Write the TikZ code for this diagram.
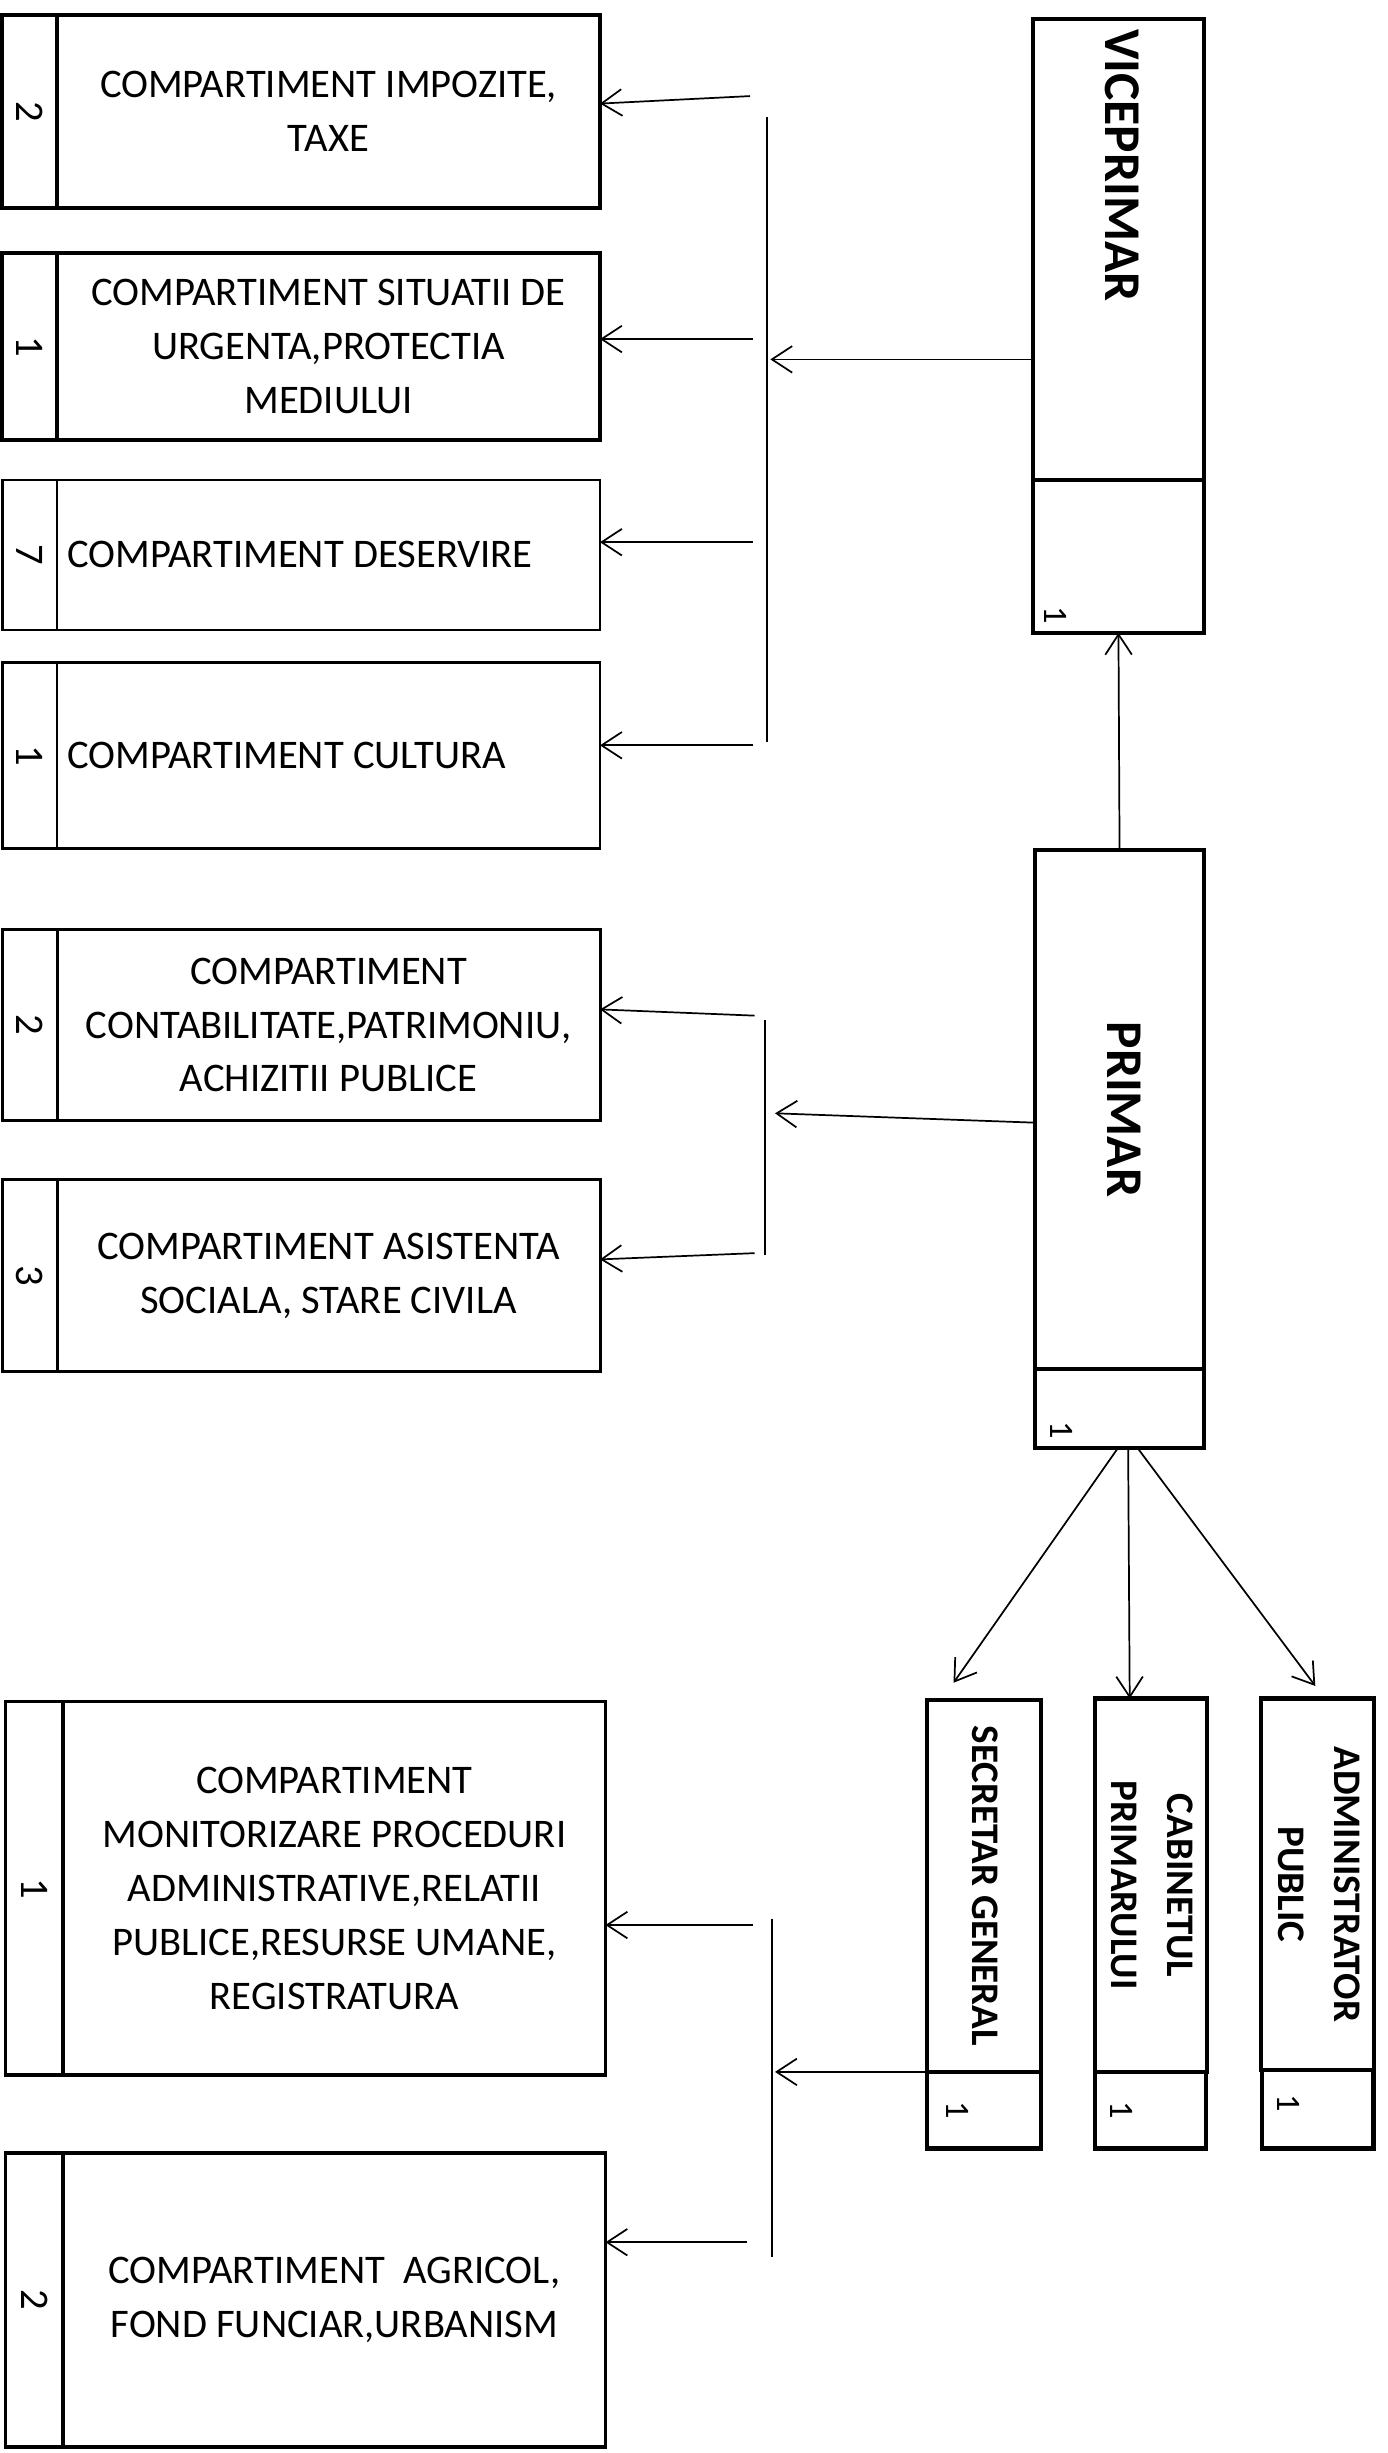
\documentclass[tikz,border=0pt]{standalone}
\usepackage{fontspec}
\setmainfont{Carlito}
\usepackage{graphicx}
\usepackage{tikz}
\usetikzlibrary{positioning,arrows.meta}
\newcommand{\vtext}[1]{\rotatebox{-90}{\begin{tabular}{@{}c@{}}#1\end{tabular}}}
\newcommand{\ltext}[1]{\makebox[334.5pt][l]{#1}}
\newcommand{\deptfont}{\fontsize{26}{34.5}\selectfont}
\newcommand{\headfont}{\fontsize{33}{40}\selectfont\bfseries}
\newcommand{\subfont}{\fontsize{25}{36}\selectfont\bfseries}

\begin{document}
\begin{tikzpicture}[x=1pt,y=1pt]
\tikzstyle{numbox}=[draw=black,rectangle,line width=2.4pt,inner sep=0pt,outer sep=0pt,minimum width=35pt,font=\deptfont]
\tikzstyle{deptbox}=[draw=black,rectangle,line width=2.4pt,inner sep=0pt,outer sep=0pt,minimum width=347.5pt,align=center,font=\deptfont]
\tikzstyle{headbox}=[draw=black,rectangle,line width=2.6pt,inner sep=0pt,outer sep=0pt]
\tikzstyle{numtext}=[inner sep=0pt,font=\fontsize{22}{26}\selectfont]
\tikzstyle{arrow}=[line width=1.1pt,-{Straight Barb[length=13pt,width=17pt,line width=1.1pt]}]
\tikzstyle{bus}=[line width=1.1pt]
\useasboundingbox (0,0) rectangle (888.3,-1569.9);

\node [numbox,minimum height=123.4pt] at (19,-71.3) (n1) {\rotatebox{-90}{2}};
\node [deptbox,minimum height=123.4pt,right=0pt of n1] (d1) {COMPARTIMENT IMPOZITE,\\TAXE};
\node [numbox,minimum height=119.6pt] at (19,-221.8) (n2) {\rotatebox{-90}{1}};
\node [deptbox,minimum height=119.6pt,right=0pt of n2] (d2) {COMPARTIMENT SITUATII DE\\URGENTA,PROTECTIA\\MEDIULUI};
\node [numbox,minimum height=96pt,line width=1.5pt] at (19,-355) (n3) {\rotatebox{-90}{7}};
\node [deptbox,minimum height=96pt,line width=1.5pt,right=0pt of n3] (d3) {\ltext{COMPARTIMENT DESERVIRE}};
\node [numbox,minimum height=119pt,line width=1.5pt] at (19,-483.5) (n4) {\rotatebox{-90}{1}};
\node [deptbox,minimum height=119pt,line width=1.5pt,right=0pt of n4] (d4) {\ltext{COMPARTIMENT CULTURA}};
\node [numbox,minimum height=122pt,line width=1.9pt] at (19,-656) (n5) {\rotatebox{-90}{2}};
\node [deptbox,minimum height=122pt,line width=1.9pt,right=0pt of n5] (d5) {COMPARTIMENT\\CONTABILITATE,PATRIMONIU,\\ACHIZITII PUBLICE};
\node [numbox,minimum height=123pt,line width=1.9pt] at (19,-816.5) (n6) {\rotatebox{-90}{3}};
\node [deptbox,minimum height=123pt,line width=1.9pt,right=0pt of n6] (d6) {COMPARTIMENT ASISTENTA\\SOCIALA, STARE CIVILA};
\node [numbox,minimum height=239pt,minimum width=37pt] at (22,-1208.5) (n7) {\rotatebox{-90}{1}};
\node [deptbox,minimum height=239pt,minimum width=347pt,right=0pt of n7] (d7) {COMPARTIMENT\\MONITORIZARE PROCEDURI\\ADMINISTRATIVE,RELATII\\PUBLICE,RESURSE UMANE,\\REGISTRATURA};
\node [numbox,minimum height=188pt,minimum width=37pt] at (22,-1472) (n8) {\rotatebox{-90}{2}};
\node [deptbox,minimum height=188pt,minimum width=347pt,right=0pt of n8] (d8) {COMPARTIMENT\ \ AGRICOL,\\FOND FUNCIAR,URBANISM};

\node [headbox,minimum width=109.6pt,minimum height=295pt] at (715.8,-159.5) (vp) {};
\node [inner sep=0pt,below=6.5pt of vp.north,font=\headfont] (vpt) {\vtext{VICEPRIMAR}};
\node [headbox,minimum width=109.6pt,minimum height=98pt,below=0pt of vp] (vp1) {};
\node [numtext] at ([xshift=14.5pt,yshift=11.4pt]vp1.south west) {\rotatebox{-90}{1}};
\node [headbox,minimum width=108pt,minimum height=332pt,font=\headfont] at (716.5,-710) (pr) {\vtext{PRIMAR}};
\node [headbox,minimum width=108pt,minimum height=50.7pt,below=0pt of pr] (pr1) {};
\node [numtext] at ([xshift=17pt,yshift=11.7pt]pr1.south west) {\rotatebox{-90}{1}};

\node [headbox,minimum width=73pt,minimum height=238pt,font=\subfont] at (629.5,-1207) (sg) {\vtext{SECRETAR GENERAL}};
\node [headbox,minimum width=73pt,minimum height=49pt,below=0pt of sg] (sg1) {};
\node [numtext] at ([xshift=20pt]sg1.west) {\rotatebox{-90}{1}};
\node [headbox,minimum width=71pt,minimum height=239pt,font=\subfont] at (736.5,-1206.5) (cab) {\vtext{CABINETUL\\PRIMARULUI}};
\node [headbox,minimum width=71pt,minimum height=49pt,below=0pt of cab] (cab1) {};
\node [numtext] at ([xshift=17pt]cab1.west) {\rotatebox{-90}{1}};
\node [headbox,minimum width=71.5pt,minimum height=238pt,font=\subfont] at (843.25,-1206) (adm) {\vtext{ADMINISTRATOR\\PUBLIC}};
\node [headbox,minimum width=71.5pt,minimum height=50pt,below=0pt of adm] (adm1) {};
\node [numtext] at ([xshift=17pt,yshift=4pt]adm1.west) {\rotatebox{-90}{1}};

\coordinate (t1) at (491,-75);
\coordinate (t2) at (491,-475);
\coordinate (b1) at (493,-230);
\coordinate (s1) at (480,-61.5);
\coordinate (s2) at (482,-217);
\coordinate (s3) at (482,-347);
\coordinate (s4) at (482,-477);
\draw [bus] (t1) -- (t2);
\draw [arrow] (vp.west |- b1) -- (b1);
\draw [arrow] (s1) -- ([yshift=5pt]d1.east);
\draw [arrow] (s2) -- ([yshift=4.8pt]d2.east);
\draw [arrow] (s3) -- ([yshift=8pt]d3.east);
\draw [arrow] (s4) -- ([yshift=6.5pt]d4.east);

\coordinate (t3) at (489.5,-653);
\coordinate (t4) at (489.5,-803);
\coordinate (b2) at (496,-712.5);
\coordinate (s5) at (483,-650);
\coordinate (s6) at (483,-802);
\draw [bus] (t3) -- (t4);
\draw [arrow] ([yshift=-8.5pt]pr.west) -- (b2);
\draw [arrow] (s5) -- ([yshift=10pt]d5.east);
\draw [arrow] (s6) -- ([yshift=10.5pt]d6.east);

\coordinate (t5) at (494,-1228);
\coordinate (t6) at (494,-1444.5);
\coordinate (b3) at (496,-1326);
\coordinate (s7) at (482,-1232);
\coordinate (s8) at (478,-1435);
\draw [bus] (t5) -- (t6);
\draw [arrow] (sg.south west) -- (b3);
\draw [arrow] (s7) -- ([yshift=-23.5pt]d7.east);
\draw [arrow] (s8) -- ([yshift=37pt]d8.east);

\draw [arrow] (pr.north) -- (vp1.south);
\draw [arrow,shorten >=13.5pt] ([xshift=-1pt]pr1.south) -- ([xshift=-27pt]sg.north);
\draw [arrow] ([xshift=5.5pt]pr1.south) -- ([xshift=-13.5pt]cab.north);
\draw [arrow,shorten >=10pt] ([xshift=11.5pt]pr1.south) -- ([xshift=4.5pt]adm.north);
\end{tikzpicture}
\end{document}
